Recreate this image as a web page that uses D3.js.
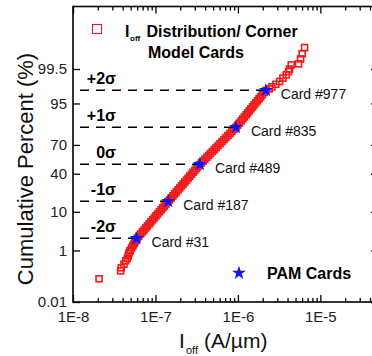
<!DOCTYPE html>
<html>
<head>
<meta charset="utf-8">
<script src="https://cdn.jsdelivr.net/npm/d3@7"></script>
<style>
  body { margin: 0; background: #fff; }
  svg { display: block; font-family: "Liberation Sans", Arial, sans-serif; }
</style>
</head>
<body>
<svg id="chart" width="372" height="356"></svg>
<script>
// Off-state leakage of the corner model cards (A/µm) and their cumulative percent
const ioffValues = [
  2.07e-8, 3.78e-8, 3.85e-8, 4.15e-8, 4.35e-8, 4.55e-8, 4.68e-8, 4.77e-8, 4.91e-8,
  4.94e-8, 5.14e-8, 5.32e-8, 5.49e-8, 5.64e-8, 5.78e-8, 5.99e-8, 6.27e-8, 6.62e-8, 6.95e-8,
  7.27e-8, 7.64e-8, 8.00e-8, 8.41e-8, 8.80e-8, 9.24e-8, 9.67e-8, 1.015e-7, 1.061e-7, 1.117e-7,
  1.172e-7, 1.227e-7, 1.281e-7, 1.343e-7, 1.411e-7, 1.478e-7, 1.551e-7, 1.629e-7, 1.708e-7, 1.791e-7,
  1.880e-7, 1.971e-7, 2.067e-7, 2.166e-7, 2.272e-7, 2.381e-7, 2.491e-7, 2.610e-7, 2.736e-7, 2.862e-7,
  2.995e-7, 3.133e-7, 3.274e-7, 3.422e-7, 3.597e-7, 3.782e-7, 3.977e-7, 4.184e-7, 4.405e-7, 4.641e-7,
  4.894e-7, 5.168e-7, 5.446e-7, 5.743e-7, 6.072e-7, 6.411e-7, 6.774e-7, 7.151e-7, 7.572e-7, 8.002e-7,
  8.457e-7, 8.959e-7, 9.48e-7, 9.93e-7, 1.043e-6, 1.095e-6, 1.144e-6, 1.198e-6, 1.259e-6, 1.313e-6,
  1.375e-6, 1.436e-6, 1.505e-6, 1.572e-6, 1.650e-6, 1.724e-6, 1.808e-6, 1.887e-6, 1.977e-6, 2.083e-6,
  2.176e-6,
  2.408e-6, 2.583e-6, 2.888e-6, 3.202e-6, 3.512e-6, 3.851e-6, 4.117e-6, 4.234e-6, 4.428e-6,
  5.441e-6, 5.754e-6, 6.016e-6, 6.434e-6
];
const cumPercent = [
  0.1, 0.2, 0.26, 0.35, 0.46, 0.55, 0.67, 0.82, 0.97,
  1.0, 1.2, 1.4, 1.6, 1.8, 2.0, 2.3, 2.6, 3.0, 3.4,
  3.8, 4.3, 4.8, 5.4, 6.0, 6.7, 7.4, 8.2, 9.0, 10,
  11, 12, 13, 14.2, 15.5, 16.8, 18.2, 19.7, 21.2, 22.8,
  24.5, 26.2, 28, 29.8, 31.7, 33.6, 35.5, 37.5, 39.5, 41.5,
  43.5, 45.5, 47.5, 49.5, 51.5, 53.5, 55.5, 57.5, 59.5, 61.5,
  63.5, 65.5, 67.4, 69.3, 71.2, 73, 74.8, 76.5, 78.2, 79.8,
  81.3, 82.8, 84.2, 85.5, 86.8, 88, 89, 90, 91, 91.8,
  92.6, 93.3, 94, 94.6, 95.2, 95.7, 96.2, 96.6, 97, 97.4,
  97.7,
  97.94, 98.19, 98.47, 98.74, 99.01, 99.22, 99.39, 99.5, 99.64,
  99.67, 99.78, 99.86, 99.92
];

// PAM cards picked at the sigma points of the distribution
const pamCards = ["Card #31", "Card #187", "Card #489", "Card #835", "Card #977"];
const pamIoff = [5.9e-8, 1.43e-7, 3.46e-7, 9.46e-7, 2.18e-6];
const pamPercent = [2.28, 15.87, 50, 84.13, 97.72];
const sigmaLabels = ["-2\u03c3", "-1\u03c3", "0\u03c3", "+1\u03c3", "+2\u03c3"];

const xTicks = [1e-8, 1e-7, 1e-6, 1e-5];
const xTickLabels = ["1E-8", "1E-7", "1E-6", "1E-5"];
const yTicks = [0.01, 1, 10, 40, 70, 95, 99.5];
const yTickLabels = ["0.01", "1", "10", "40", "70", "95", "99.5"];
const xDomain = [1e-8, 5e-5];
const yDomain = [0.01, 99.999];

// inverse of the standard normal CDF (Acklam's rational approximation)
function probit(p) {
  const a = [-3.969683028665376e+01, 2.209460984245205e+02, -2.759285104469687e+02,
             1.383577518672690e+02, -3.066479806614716e+01, 2.506628277459239e+00];
  const b = [-5.447609879822406e+01, 1.615858368580409e+02, -1.556989798598866e+02,
             6.680131188771972e+01, -1.328068155288572e+01];
  const c = [-7.784894002430293e-03, -3.223964580411365e-01, -2.400758277161838e+00,
             -2.549732539343734e+00, 4.374664141464968e+00, 2.938163982698783e+00];
  const d = [7.784695709041462e-03, 3.224671290700398e-01, 2.445134137142996e+00,
             3.754408661907416e+00];
  const pl = 0.02425, ph = 1 - pl;
  let q, r;
  if (p < pl) {
    q = Math.sqrt(-2 * Math.log(p));
    return (((((c[0]*q+c[1])*q+c[2])*q+c[3])*q+c[4])*q+c[5]) /
           ((((d[0]*q+d[1])*q+d[2])*q+d[3])*q+1);
  }
  if (p <= ph) {
    q = p - 0.5; r = q * q;
    return (((((a[0]*r+a[1])*r+a[2])*r+a[3])*r+a[4])*r+a[5])*q /
           (((((b[0]*r+b[1])*r+b[2])*r+b[3])*r+b[4])*r+1);
  }
  q = Math.sqrt(-2 * Math.log(1 - p));
  return -(((((c[0]*q+c[1])*q+c[2])*q+c[3])*q+c[4])*q+c[5]) /
          ((((d[0]*q+d[1])*q+d[2])*q+d[3])*q+1);
}

const plotLeft = 73, plotRight = 378, plotTop = 6.5, plotBottom = 302;
const svg = d3.select("#chart");

const x = d3.scaleLog().domain(xDomain).range([plotLeft, plotRight]);
// probability axis: linear in the normal quantile of the percent
const z = d3.scaleLinear()
  .domain(yDomain.map(p => probit(p / 100)))
  .range([plotBottom, plotTop]);
const yPct = p => z(probit(p / 100));

const red = "#f01a1a", blue = "#1414f0";

// minor decade ticks
const minorTicks = [];
[1e-8, 1e-7, 1e-6, 1e-5].forEach(dec => {
  for (let m = 2; m <= 9; m++) { const v = m * dec; if (v <= xDomain[1]) minorTicks.push(v); }
});

const axisFont = 15;
function styleAxis(g) {
  g.select(".domain").remove();
  g.selectAll("line").attr("stroke", "#000").attr("stroke-width", 1.3);
  g.selectAll("text").attr("font-size", axisFont).attr("fill", "#222")
    .attr("font-family", "Liberation Sans, Arial, sans-serif");
}

// bottom axis
svg.append("g").attr("transform", `translate(0,${plotBottom})`)
  .call(d3.axisBottom(x).tickValues(xTicks).tickFormat((d, i) => xTickLabels[i])
    .tickSizeInner(-7).tickSizeOuter(0).tickPadding(9))
  .call(styleAxis);
svg.append("g").attr("transform", `translate(0,${plotBottom})`)
  .call(d3.axisBottom(x).tickValues(minorTicks).tickFormat("").tickSizeInner(-4).tickSizeOuter(0))
  .call(styleAxis);
// top axis
svg.append("g").attr("transform", `translate(0,${plotTop})`)
  .call(d3.axisTop(x).tickValues(xTicks).tickFormat("").tickSizeInner(-7).tickSizeOuter(0))
  .call(styleAxis);
svg.append("g").attr("transform", `translate(0,${plotTop})`)
  .call(d3.axisTop(x).tickValues(minorTicks).tickFormat("").tickSizeInner(-4).tickSizeOuter(0))
  .call(styleAxis);
// left axis
const yTickZ = yTicks.map(p => probit(p / 100));
svg.append("g").attr("transform", `translate(${plotLeft},0)`)
  .call(d3.axisLeft(z).tickValues(yTickZ).tickFormat((d, i) => yTickLabels[i])
    .tickSizeInner(-7).tickSizeOuter(0).tickPadding(6))
  .call(styleAxis);
// right axis
svg.append("g").attr("transform", `translate(${plotRight},0)`)
  .call(d3.axisRight(z).tickValues(yTickZ).tickFormat("").tickSizeInner(-7).tickSizeOuter(0))
  .call(styleAxis);

// frame
svg.append("rect")
  .attr("x", plotLeft).attr("y", plotTop)
  .attr("width", plotRight - plotLeft).attr("height", plotBottom - plotTop)
  .attr("fill", "none").attr("stroke", "#000").attr("stroke-width", 1.6);

// distribution points (open squares)
const sq = 6;
svg.append("g").selectAll("rect")
  .data(ioffValues.map((v, i) => [v, cumPercent[i]]))
  .join("rect")
  .attr("x", d => x(d[0]) - sq / 2)
  .attr("y", d => yPct(d[1]) - sq / 2)
  .attr("width", sq).attr("height", sq)
  .attr("fill", "none").attr("stroke", red).attr("stroke-width", 1.6);

// sigma reference lines
const dashStart = 80;
svg.append("g").selectAll("line")
  .data(pamPercent.map((p, i) => [pamIoff[i], p]))
  .join("line")
  .attr("x1", dashStart).attr("x2", d => x(d[0]))
  .attr("y1", d => yPct(d[1])).attr("y2", d => yPct(d[1]))
  .attr("stroke", "#000").attr("stroke-width", 1.5)
  .attr("stroke-dasharray", "9,7");

svg.append("g").selectAll("text")
  .data(pamPercent)
  .join("text")
  .attr("x", 116).attr("y", d => yPct(d) - 6)
  .attr("text-anchor", "end")
  .attr("font-size", 16).attr("font-weight", "bold").attr("fill", "#000")
  .text((d, i) => sigmaLabels[i]);

// PAM card stars and labels
const star = d3.symbol().type(d3.symbolStar).size(60);
svg.append("g").selectAll("path")
  .data(pamIoff.map((v, i) => [v, pamPercent[i]]))
  .join("path")
  .attr("transform", d => `translate(${x(d[0])},${yPct(d[1])})`)
  .attr("d", star).attr("fill", blue);

svg.append("g").selectAll("text")
  .data(pamIoff.map((v, i) => [v, pamPercent[i]]))
  .join("text")
  .attr("x", d => x(d[0]) + 15).attr("y", d => yPct(d[1]) + 9)
  .attr("font-size", 14).attr("fill", "#111")
  .text((d, i) => pamCards[i]);

// legend: distribution
svg.append("rect").attr("x", 92.5).attr("y", 24.5).attr("width", 9).attr("height", 9)
  .attr("fill", "none").attr("stroke", "#c8262a").attr("stroke-width", 1.1);
const lg = svg.append("text").attr("font-weight", "bold").attr("font-size", 16).attr("fill", "#000");
lg.append("tspan").attr("x", 125).attr("y", 36.5).text("I");
lg.append("tspan").attr("x", 130).attr("y", 40.5).attr("font-size", 8).text("off");
lg.append("tspan").attr("x", 146.5).attr("y", 36.5).text("Distribution/ Corner");
svg.append("text").attr("x", 148).attr("y", 58).attr("font-weight", "bold")
  .attr("font-size", 16).attr("fill", "#000").text("Model Cards");

// legend: PAM cards
svg.append("path").attr("transform", "translate(239,273)").attr("d", star).attr("fill", blue);
svg.append("text").attr("x", 267).attr("y", 279).attr("font-weight", "bold")
  .attr("font-size", 16).attr("fill", "#000").text("PAM Cards");

// axis titles
svg.append("text")
  .attr("transform", "translate(33,169) rotate(-90)")
  .attr("text-anchor", "middle").attr("font-size", 22).attr("fill", "#111")
  .text("Cumulative Percent (%)");
const xt = svg.append("text").attr("font-size", 21).attr("fill", "#111");
xt.append("tspan").attr("x", 179).attr("y", 348).text("I");
xt.append("tspan").attr("x", 186).attr("y", 354).attr("font-size", 11).text("off");
xt.append("tspan").attr("x", 204).attr("y", 348).text("(A/\u00b5m)");
</script>
</body>
</html>
